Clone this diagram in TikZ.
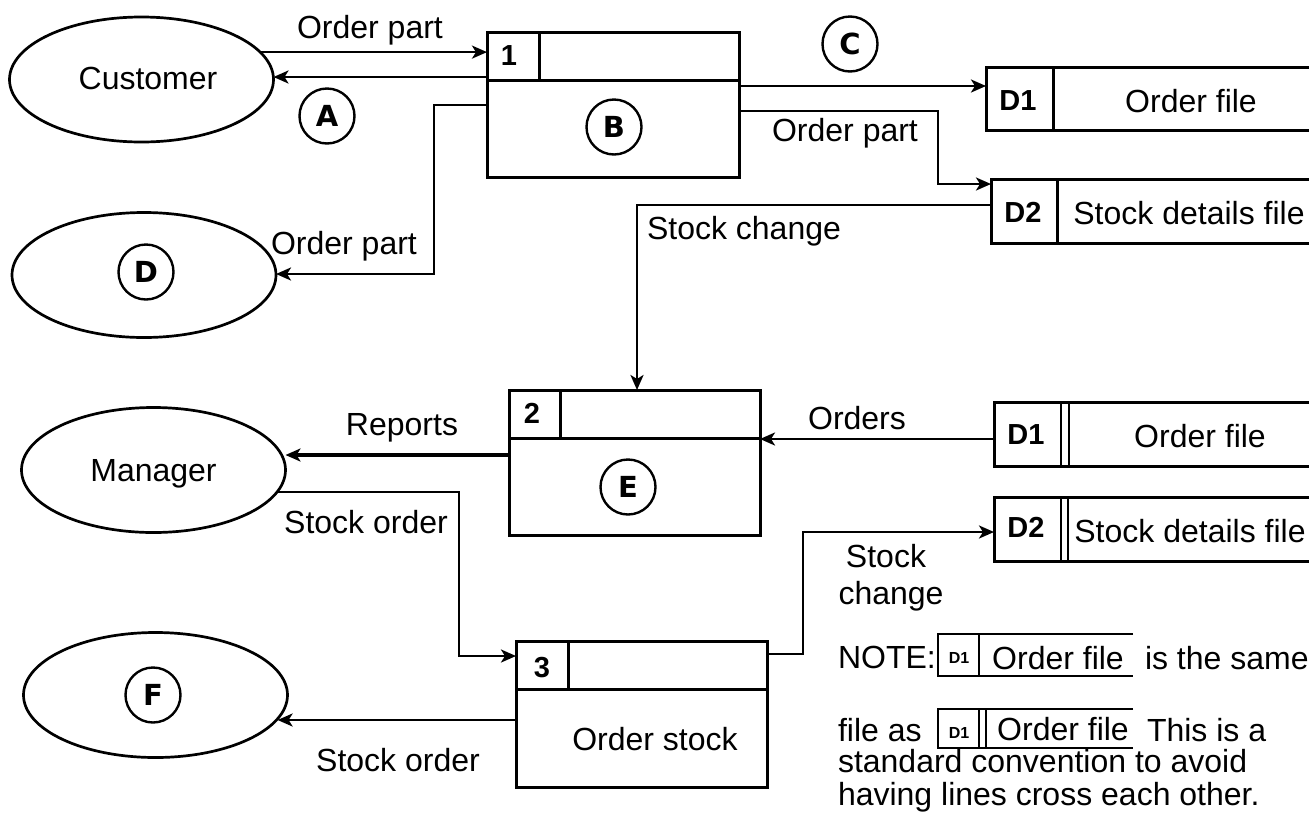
\documentclass[tikz,border=0pt]{standalone}
\usepackage{fontspec}
\setmainfont{Liberation Sans}
\newfontfamily\heavyfont{DejaVu Sans}
\usetikzlibrary{shapes.geometric,arrows.meta,calc}

\tikzset{
  every node/.style={inner sep=0pt, outer sep=0pt},
  txt/.style={font=\fontsize{32}{38}\selectfont, text height=23pt, text depth=0pt},
  idx/.style={font=\bfseries\fontsize{29}{34}\selectfont, text height=21pt, text depth=0pt},
  minid/.style={font=\bfseries\fontsize{16}{19}\selectfont, text height=12pt, text depth=0pt},
  tag/.style={circle, draw, line width=2.4pt, minimum size=55pt,
              font=\heavyfont\bfseries\fontsize{29}{34}\selectfont, text height=21pt, text depth=0pt},
  entity/.style={ellipse, draw, line width=2.7pt, minimum width=264pt, minimum height=125pt, txt},
  proc/.style={rectangle, draw, line width=3pt, anchor=north west},
  store/.style={rectangle, anchor=north west},
  ruleline/.style={line width=3pt},
  noteline/.style={line width=2pt},
  flow/.style={line width=2.6pt, -{Stealth[length=15pt,width=13pt,inset=4pt]}},
}

\begin{document}
\begin{tikzpicture}[x=1pt,y=-1pt]
\useasboundingbox (0,0) rectangle (1309,820);

% ---------- external entities ----------
\node[entity] (cust) at (141.5,79.5) {};
\node[txt] (custtx) at (148,78) {Customer};
\node[entity] (dent) at (144,275) {};
\node[tag] (tagD) at (146,272) {D};
\node[entity] (mgr) at (153.5,470) {Manager};
\node[entity] (fent) at (155.5,695) {};
\node[tag] (tagF) at (153,695) {F};

% ---------- processes ----------
\node[proc, minimum width=252pt, minimum height=145pt] (p1) at (487,32) {};
\draw[ruleline] ($(p1.north west)+(0,48)$) -- ($(p1.north east)+(0,48)$);
\draw[ruleline] ($(p1.north west)+(52,0)$) -- ($(p1.north west)+(52,48)$);
\node[idx] (n1) at ($(p1.north west)+(22,23)$) {1};
\node[tag] (tagB) at (614,127) {B};

\node[proc, minimum width=251pt, minimum height=145pt] (p2) at (509,390) {};
\draw[ruleline] ($(p2.north west)+(0,48)$) -- ($(p2.north east)+(0,48)$);
\draw[ruleline] ($(p2.north west)+(51,0)$) -- ($(p2.north west)+(51,48)$);
\node[idx] (n2) at ($(p2.north west)+(23,23)$) {2};
\node[tag] (tagE) at (628,487) {E};

\node[proc, minimum width=251pt, minimum height=146pt] (p3) at (516,641) {};
\draw[ruleline] ($(p3.north west)+(0,48)$) -- ($(p3.north east)+(0,48)$);
\draw[ruleline] ($(p3.north west)+(52,0)$) -- ($(p3.north west)+(52,48)$);
\node[idx] (n3) at ($(p3.north west)+(26,26)$) {3};
\node[txt] (t3) at (655,739) {Order stock};

% ---------- data stores ----------
\node[store, minimum width=323pt, minimum height=63pt] (d1a) at (986,67) {};
\draw[ruleline] (d1a.north east) -- (d1a.north west) -- (d1a.south west) -- (d1a.south east);
\draw[ruleline] ($(d1a.north west)+(67,0)$) -- ($(d1a.south west)+(67,0)$);
\node[idx] (d1aid) at (1018,100) {D1};
\node[txt] (d1atx) at (1191,101) {Order file};

\node[store, minimum width=318pt, minimum height=64pt] (d2a) at (991,179) {};
\draw[ruleline] (d2a.north east) -- (d2a.north west) -- (d2a.south west) -- (d2a.south east);
\draw[ruleline] ($(d2a.north west)+(66,0)$) -- ($(d2a.south west)+(66,0)$);
\node[idx] (d2aid) at (1023,212) {D2};
\node[txt] (d2atx) at (1189,213) {Stock details file};

\node[store, minimum width=315pt, minimum height=64pt] (d1b) at (994,402) {};
\draw[ruleline] (d1b.north east) -- (d1b.north west) -- (d1b.south west) -- (d1b.south east);
\draw[noteline] ($(d1b.north west)+(67,0)$) -- ($(d1b.south west)+(67,0)$);
\draw[noteline] ($(d1b.north west)+(75,0)$) -- ($(d1b.south west)+(75,0)$);
\node[idx] (d1bid) at (1026,434) {D1};
\node[txt] (d1btx) at (1200,436) {Order file};

\node[store, minimum width=315pt, minimum height=64pt] (d2b) at (994,497) {};
\draw[ruleline] (d2b.north east) -- (d2b.north west) -- (d2b.south west) -- (d2b.south east);
\draw[noteline] ($(d2b.north west)+(67,0)$) -- ($(d2b.south west)+(67,0)$);
\draw[noteline] ($(d2b.north west)+(74,0)$) -- ($(d2b.south west)+(74,0)$);
\node[idx] (d2bid) at (1026,527) {D2};
\node[txt] (d2btx) at (1190,531) {Stock details file};

% ---------- data flows ----------
% Customer -> 1
\draw[flow] (cust.13) -- (cust.13 -| p1.west);
\node[txt] (l1) at (370,27) {Order part};
% 1 -> Customer
\coordinate (a1) at ($(p1.north west)+(0,45)$);
\draw[flow] (a1) -- (a1 -| cust.east);
\node[tag] (tagA) at (327,116) {A};
% 1 -> D
\coordinate (a2) at ($(p1.north west)+(0,73)$);
\coordinate (b2) at (434,274);
\draw[flow] (a2) -| (b2) -- (b2 -| dent.east);
\node[txt] (l2) at (344,243) {Order part};
% 1 -> D1
\coordinate (a3) at ($(p1.north east)+(0,54)$);
\draw[flow] (a3) -- (a3 -| d1a.west);
\node[tag] (tagC) at (850,44) {C};
% 1 -> D2
\coordinate (a4) at ($(p1.north east)+(0,79)$);
\coordinate (b4) at (938,184);
\draw[flow] (a4) -| (b4) -- (b4 -| d2a.west);
\node[txt] (l3) at (845,130) {Order part};
% D2 -> 2
\coordinate (a5) at ($(d2a.north west)+(0,26)$);
\coordinate (b5) at (637,205);
\draw[flow] (a5) -- (b5) -- (b5 |- p2.north);
\node[txt] (l4) at (744,228) {Stock change};
% 2 -> Manager
\coordinate (a6) at ($(p2.north west)+(0,65)$);
\draw[flow, line width=3.4pt] (a6) -- (a6 -| mgr.east);
\node[txt] (l5) at (402,424) {Reports};
% D1 -> 2
\coordinate (a7) at ($(d1b.north west)+(0,37)$);
\draw[flow] (a7) -- (a7 -| p2.east);
\node[txt] (l6) at (857,418) {Orders};
% Manager -> 3
\coordinate (b8) at (459,656);
\draw[flow] (mgr.-10) -| (b8) -- (b8 -| p3.west);
\node[txt] (l7) at (366,522) {Stock order};
% 3 -> F
\coordinate (a9) at ($(p3.north west)+(0,79)$);
\draw[flow] (a9) -- (a9 -| fent.-11);
\node[txt] (l8) at (398,760) {Stock order};
% 3 -> D2
\coordinate (a10) at ($(p3.north east)+(0,13)$);
\coordinate (b10) at (803,532);
\draw[flow] (a10) -| (b10) -- (b10 -| d2b.west);
\node[txt] (l9) at (886,556) {Stock};
\node[txt] (l10) at (891,593) {change};

% ---------- note ----------
\node[txt, anchor=west] (note1) at (838,657) {NOTE:};
\draw[noteline] (1133,634) -- (938,634) -- (938,676) -- (1133,676);
\draw[noteline] (979,634) -- (979,676);
\node[minid] (nid1) at (959,657) {D1};
\node[txt] (nof1) at (1058,658) {Order file};
\node[txt, anchor=west] (note2) at (1145,658) {is the same};

\node[txt, anchor=west] (note3) at (838,730) {file as};
\draw[noteline] (1133,709) -- (938,709) -- (938,748) -- (1133,748);
\draw[noteline] (979,709) -- (979,748);
\draw[noteline] (986,709) -- (986,748);
\node[minid] (nid2) at (959,732) {D1};
\node[txt] (nof2) at (1063,729) {Order file};
\node[txt, anchor=west] (note4) at (1147,730) {This is a};
\node[txt, anchor=west] (note5) at (838,761) {standard convention to avoid};
\node[txt, anchor=west] (note6) at (838,794) {having lines cross each other.};
\end{tikzpicture}
\end{document}
